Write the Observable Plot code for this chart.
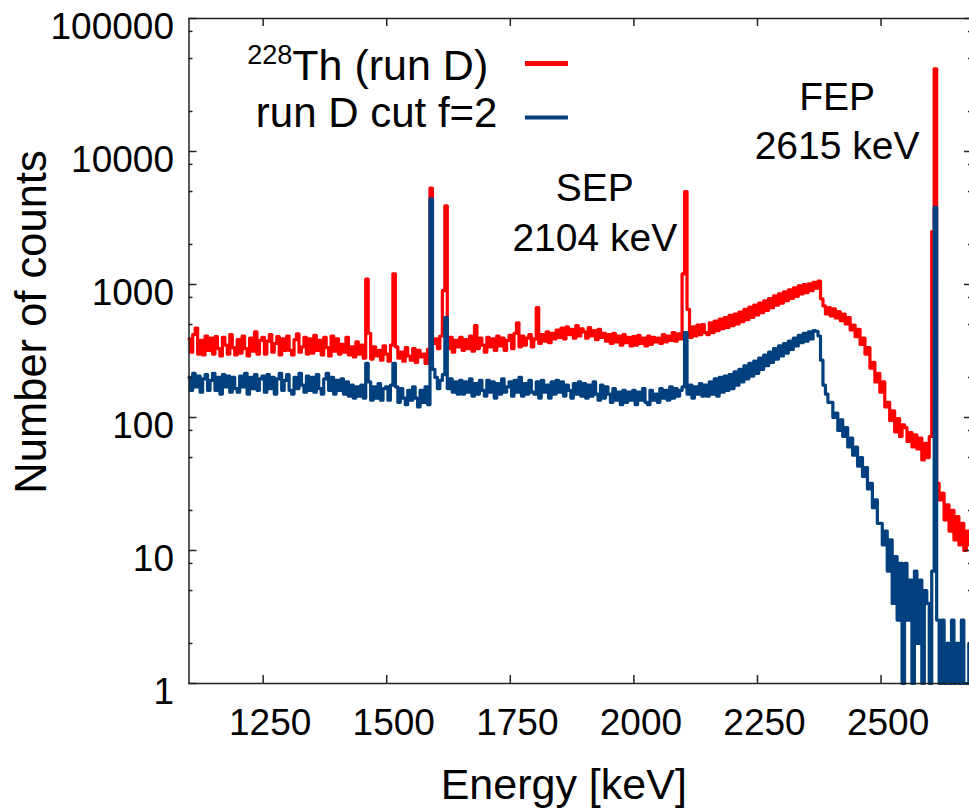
<!DOCTYPE html>
<html><head><meta charset="utf-8">
<script src="https://cdn.jsdelivr.net/npm/d3@7"></script>
<script src="https://cdn.jsdelivr.net/npm/@observablehq/plot@0.6"></script>
<style>
html,body{margin:0;padding:0;background:#fff;overflow:hidden;}
</style></head><body><div id="chart"></div>
<script>
// Histogram bins: 5 keV wide, starting at 1100 keV
const binStart = 1100, binWidth = 5;

// 228Th (run D) counts per bin
const runD = [
 390,310,420,470,300,380,295,410,320,395,
 300,405,330,290,400,350,300,420,335,295,
 385,305,410,330,290,395,315,440,300,380,
 400,300,375,420,310,360,405,295,390,320,
 410,320,295,385,425,310,340,400,300,390,
 305,415,320,380,295,400,335,290,410,315,
 390,300,355,310,400,295,340,285,370,300,
 350,280,1100,430,275,340,290,320,270,345,
 300,265,350,1200,340,280,310,265,335,290,
 270,330,260,320,285,300,255,325,5300,360,
 390,330,410,900,3900,330,400,310,380,340,
 400,320,385,330,410,315,490,330,395,350,
 310,400,340,390,320,410,345,395,320,380,
 415,330,430,515,340,410,350,395,420,340,
 390,670,360,420,375,440,365,430,390,455,
 400,470,390,480,420,460,395,490,410,465,
 440,395,475,410,450,385,460,400,430,375,
 420,360,430,370,410,350,420,365,400,345,
 405,350,415,360,395,345,410,355,400,370,
 395,360,420,370,410,380,435,375,425,390,
 1200,5000,650,400,480,410,495,420,500,435,
 420,515,435,530,450,550,465,565,475,585,
 490,600,505,620,525,650,545,675,565,700,
 590,725,615,755,640,785,670,820,700,850,
 725,880,755,910,785,945,815,975,850,1000,
 870,1010,900,1040,940,1060,780,690,600,670,
 580,655,560,625,535,600,505,565,455,495,
 405,460,355,395,300,335,235,260,185,215,
 155,185,120,130,95,112,78,98,72,88,
 84,66,77,60,74,58,70,48,64,50,
 72,2500,41900,32,24,27,17,22,14,20,
 12,18,11,16,10,14,11,13
];

// run D cut f=2 counts per bin
const runDCut = [
 200,160,215,170,205,155,195,210,160,190,
 215,160,200,150,210,170,205,155,200,165,
 155,205,170,215,150,200,165,210,160,195,
 205,155,210,165,200,150,195,215,160,190,
 210,160,150,200,165,215,175,155,205,160,
 200,155,210,165,150,195,215,160,200,150,
 190,160,195,150,185,145,175,140,170,145,
 175,140,255,185,135,170,140,180,135,165,
 170,135,175,255,170,130,165,140,125,160,
 135,170,140,120,160,130,170,125,4400,230,
 200,165,190,210,565,165,195,155,185,150,
 190,150,185,155,195,145,180,150,190,160,
 145,190,155,185,140,180,150,195,155,170,
 185,145,190,155,200,145,180,150,190,155,
 150,185,140,190,155,175,140,185,150,190,
 155,185,145,175,160,140,180,150,185,145,
 180,140,175,145,185,150,135,175,140,170,
 150,130,165,135,155,125,160,130,155,135,
 160,125,155,135,165,130,125,160,135,150,
 130,165,140,160,135,170,140,165,145,160,
 170,435,150,175,140,170,150,180,145,175,
 145,185,150,195,145,200,155,205,160,210,
 165,220,175,230,185,245,195,255,205,265,
 215,280,230,295,245,310,260,330,275,345,
 290,360,305,375,325,395,345,415,365,430,
 375,440,390,450,445,410,270,175,150,130,
 130,100,108,80,96,72,84,60,70,52,
 60,43,50,36,42,29,32,21,24,16,
 16,11,14,7,12,4,9,3,8,1,
 8,3,6,1,7,2,6,1,5,4,
 1,7,3800,3,1,3,1,2,1,3,
 1,2,1,3,1,1,2,1
];

const energies = runD.map((_, i) => binStart + i * binWidth);

// Tick values and labels
const xTicks = [1250, 1500, 1750, 2000, 2250, 2500];
const yMajor = [1, 10, 100, 1000, 10000, 100000];
const yMinor = [2, 5, 8, 20, 50, 80, 200, 500, 800, 2000, 5000, 8000, 20000, 50000, 80000];

const isotope = "228";
const seriesLabels = ["Th (run D)", "run D cut f=2"];
const peakNames = ["SEP", "FEP"];
const peakEnergies = ["2104 keV", "2615 keV"];
const xTitle = "Energy [keV]";
const yTitle = "Number of counts";

const RED = "#ff0000", BLUE = "#00407f", AX = "#222";
const PW = 972 - 188.5, PH = 683 - 18;

const chart = Plot.plot({
  width: 975, height: 810,
  marginTop: 18, marginBottom: 127, marginLeft: 188.5, marginRight: 3,
  x: {domain: [1100, 2685], axis: null},
  y: {type: "log", domain: [1, 100000], axis: null},
  style: {fontFamily: "'Liberation Sans', Arial, sans-serif", background: "white", color: "black", overflow: "visible", maxWidth: "none"},
  marks: [
    Plot.line(runD, {x: (d, i) => energies[i], y: d => d, curve: "step", stroke: RED, strokeWidth: 3.2}),
    Plot.line(runDCut, {x: (d, i) => energies[i], y: d => d, curve: "step", stroke: BLUE, strokeWidth: 3.2}),
    Plot.frame({stroke: AX, strokeWidth: 1.5}),
    Plot.tickX(xTicks, {x: d => d, insetTop: PH - 8, stroke: AX, strokeWidth: 1.5}),
    Plot.tickX(xTicks, {x: d => d, insetBottom: PH - 8, stroke: AX, strokeWidth: 1.5}),
    Plot.tickY(yMajor, {y: d => d, insetRight: PW - 8, stroke: AX, strokeWidth: 1.5}),
    Plot.tickY(yMinor, {y: d => d, insetRight: PW - 4, stroke: AX, strokeWidth: 1.5}),
    Plot.tickY(yMajor, {y: d => d, insetLeft: PW - 8, stroke: AX, strokeWidth: 1.5}),
    Plot.tickY(yMinor, {y: d => d, insetLeft: PW - 4, stroke: AX, strokeWidth: 1.5}),
    Plot.text(xTicks, {x: d => d, text: d => String(d), frameAnchor: "bottom", lineAnchor: "top", dy: 25, dx: 7, fontSize: 37, fill: "black"}),
    Plot.text(yMajor, {y: d => d, text: d => String(d), frameAnchor: "left", textAnchor: "end", dx: -15, dy: 9, fontSize: 37, fill: "black"}),
    Plot.text([xTitle], {text: d => d, frameAnchor: "bottom", textAnchor: "middle", lineAnchor: "bottom", dy: 115, dx: -17, fontSize: 43, fill: "black"}),
    Plot.text([yTitle], {text: d => d, frameAnchor: "left", textAnchor: "middle", rotate: -90, lineAnchor: "bottom", dx: -143.5, dy: -29, fontSize: 43.5, fill: "black"}),
    // legend
    Plot.text([isotope], {text: d => d, x: 1309, y: 45880, textAnchor: "end", lineAnchor: "bottom", fontSize: 27, fill: "black"}),
    Plot.text([seriesLabels[0]], {text: d => d, x: 1309, y: 34190, textAnchor: "start", lineAnchor: "bottom", fontSize: 43, fill: "black"}),
    Plot.text([seriesLabels[1]], {text: d => d, x: 1724, y: 15155, textAnchor: "end", lineAnchor: "bottom", fontSize: 42, fill: "black"}),
    Plot.ruleY([45880], {x1: 1780.6, x2: 1867.6, stroke: RED, strokeWidth: 5}),
    Plot.ruleY([18010], {x1: 1780.6, x2: 1867.6, stroke: BLUE, strokeWidth: 4}),
    // peak annotations
    Plot.text([peakNames[0]], {text: d => d, x: 1921, y: 4281, lineAnchor: "bottom", fontSize: 39, fill: "black"}),
    Plot.text([peakEnergies[0]], {text: d => d, x: 1921, y: 1771, lineAnchor: "bottom", fontSize: 39, fill: "black"}),
    Plot.text([peakNames[1]], {text: d => d, x: 2411, y: 20340, lineAnchor: "bottom", fontSize: 39, fill: "black"}),
    Plot.text([peakEnergies[1]], {text: d => d, x: 2411, y: 8857, lineAnchor: "bottom", fontSize: 39, fill: "black"})
  ]
});
document.getElementById("chart").appendChild(chart);
</script>
</body></html>
